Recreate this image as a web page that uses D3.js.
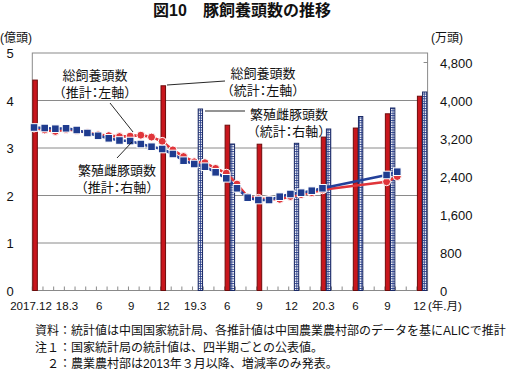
<!DOCTYPE html>
<html>
<head>
<meta charset="utf-8">
<script src="https://cdn.jsdelivr.net/npm/d3@7"></script>
<style>
  body { margin: 0; background: #fff; }
  text { font-family: "Liberation Sans", "Noto Sans CJK JP", sans-serif; fill: #111; }
  .halt { font-feature-settings: "halt"; }
</style>
</head>
<body>
<div id="chart"></div>
<script>
// months on the x axis (2017.12 - 2020.12)
const months = ["2017.12","2018.1","2018.2","2018.3","2018.4","2018.5","2018.6","2018.7","2018.8","2018.9","2018.10","2018.11","2018.12",
  "2019.1","2019.2","2019.3","2019.4","2019.5","2019.6","2019.7","2019.8","2019.9","2019.10","2019.11","2019.12",
  "2020.1","2020.2","2020.3","2020.4","2020.5","2020.6","2020.7","2020.8","2020.9","2020.10","2020.11","2020.12"];
const tickLabels = ["2017.12","18.3","6","9","12","19.3","6","9","12","20.3","6","9","12"];

// quarterly statistics (bars)
const statMonths = ["2017.12","2018.12","2019.3","2019.6","2019.9","2019.12","2020.3","2020.6","2020.9","2020.12"];
const totalStat = [4.43, 4.31, null, 3.48, 3.08, null, 3.23, 3.42, 3.72, 4.09];   // 億頭, left axis
const sowStat = [null, null, 3821, 3084, null, 3099, 3400, 3663, 3842, 4179];     // 万頭, right axis

// monthly estimates (lines)
const estMonths = months.slice(0, 28).concat(["2020.9", "2020.10"]);
const totalEst = [3.42,3.38,3.35,3.39,3.37,3.32,3.28,3.26,3.24,3.25,3.27,3.23,3.14,
  2.96,2.82,2.71,2.69,2.57,2.47,2.24,1.97,1.94,1.92,1.92,1.98,2.02,2.06,2.12, 2.29,2.40];
const sowEst = [3432,3421,3406,3415,3379,3316,3257,3204,3158,3147,3084,3027,2979,
  2874,2733,2663,2606,2488,2362,2152,1954,1905,1905,1975,2032,2059,2101,2152, 2432,2501];

const width = 508, height = 371;
const plotL = 32.3, plotR = 427.6, plotT = 53, plotB = 290.5;

const svg = d3.select("#chart").append("svg")
  .attr("width", width).attr("height", height);

const defs = svg.append("defs");
const pat = defs.append("pattern")
  .attr("id", "grid").attr("patternUnits", "userSpaceOnUse")
  .attr("width", 2.6).attr("height", 2.4);
pat.append("rect").attr("width", 2.6).attr("height", 2.4).attr("fill", "#fff");
pat.append("rect").attr("width", 2.6).attr("height", 0.9).attr("fill", "#2a3f8a");
pat.append("rect").attr("width", 0.9).attr("height", 2.4).attr("fill", "#2a3f8a");

const x = d3.scaleBand().domain(months).range([plotL, plotR]).paddingInner(0).paddingOuter(0);
const bw = x.bandwidth();
const px = m => x(m) + 1.7;

const y = d3.scaleLinear().domain([0, 5]).range([plotB, plotT]);
const yR = d3.scaleLinear().domain([0, 5000]).range([plotB, plotT]);

// title
svg.append("text")
  .attr("x", 242).attr("y", 16)
  .attr("text-anchor", "middle")
  .style("font-size", "16px").style("font-weight", "bold")
  .text("図10　豚飼養頭数の推移");

// gridlines
svg.append("g").selectAll("line")
  .data([1, 2, 3, 4])
  .join("line")
  .attr("x1", plotL).attr("x2", plotR)
  .attr("y1", d => y(d)).attr("y2", d => y(d))
  .attr("stroke", "#8a8a8a").attr("stroke-width", 1);

// plot frame
svg.append("rect")
  .attr("x", plotL).attr("y", plotT)
  .attr("width", plotR - plotL).attr("height", plotB - plotT)
  .attr("fill", "none").attr("stroke", "#8a8a8a").attr("stroke-width", 1);

// left axis
svg.append("g").selectAll("text")
  .data(y.ticks(5))
  .join("text")
  .attr("x", 10).attr("y", d => y(d) + 5)
  .attr("text-anchor", "middle")
  .style("font-size", "13px")
  .text(d => d);

svg.append("text").attr("x", 0).attr("y", 42)
  .style("font-size", "12px").text("(億頭)");

// right axis
const rTicks = [0, 800, 1600, 2400, 3200, 4000, 4800];
svg.append("g").selectAll("line")
  .data(rTicks)
  .join("line")
  .attr("x1", plotR - 4).attr("x2", plotR)
  .attr("y1", d => yR(d)).attr("y2", d => yR(d))
  .attr("stroke", "#8a8a8a");
svg.append("g").selectAll("text")
  .data(rTicks)
  .join("text")
  .attr("x", 440).attr("y", d => yR(d) + 5)
  .style("font-size", "13px")
  .text(d => d3.format(",")(d));

svg.append("text").attr("x", 431).attr("y", 42)
  .style("font-size", "12px").text("(万頭)");

// x ticks
svg.append("g").selectAll("line")
  .data(months)
  .join("line")
  .attr("x1", d => x(d)).attr("x2", d => x(d))
  .attr("y1", plotB - 4).attr("y2", plotB)
  .attr("stroke", "#8a8a8a");

const tickMonths = months.filter((d, i) => i % 3 === 0);
svg.append("g").selectAll("text")
  .data(tickMonths)
  .join("text")
  .attr("x", (d, i) => i === 0 ? px(d) - 3 : px(d) + 1)
  .attr("y", 310)
  .attr("text-anchor", "middle")
  .style("font-size", "11.5px")
  .text((d, i) => tickLabels[i]);

svg.append("text").attr("x", 428).attr("y", 310)
  .style("font-size", "11.5px").text("(年.月)");

// bars: total (statistics, left axis)
svg.append("g").selectAll("rect")
  .data(statMonths.map((m, i) => [m, totalStat[i]]).filter(d => d[1] != null))
  .join("rect")
  .attr("x", d => x(d[0]) + 0.5)
  .attr("y", d => y(d[1]))
  .attr("width", bw / 2 - 0.8)
  .attr("height", d => plotB - y(d[1]))
  .attr("fill", "#c8161d")
  .attr("stroke", "#6e0b0b").attr("stroke-width", 1);

// bars: sows (statistics, right axis)
svg.append("g").selectAll("rect")
  .data(statMonths.map((m, i) => [m, sowStat[i]]).filter(d => d[1] != null))
  .join("rect")
  .attr("x", d => x(d[0]) + bw / 2 + 0.3)
  .attr("y", d => yR(d[1]))
  .attr("width", bw / 2 - 1)
  .attr("height", d => plotB - yR(d[1]))
  .attr("fill", "url(#grid)")
  .attr("stroke", "#1b2a66").attr("stroke-width", 1);

// line: total (estimate, left axis)
const totalData = estMonths.map((m, i) => [m, totalEst[i]]);
svg.append("path")
  .datum(totalData)
  .attr("d", d3.line().x(d => px(d[0])).y(d => y(d[1])))
  .attr("fill", "none").attr("stroke", "#e0353a").attr("stroke-width", 2.6);
svg.append("g").selectAll("circle")
  .data(totalData)
  .join("circle")
  .attr("cx", d => px(d[0])).attr("cy", d => y(d[1]))
  .attr("r", 4)
  .attr("fill", "#e0353a").attr("stroke", "#fff").attr("stroke-width", 1);

// line: sows (estimate, right axis)
const sowData = estMonths.map((m, i) => [m, sowEst[i]]);
svg.append("path")
  .datum(sowData)
  .attr("d", d3.line().x(d => px(d[0])).y(d => yR(d[1])))
  .attr("fill", "none").attr("stroke", "#23409a").attr("stroke-width", 2.6);
svg.append("g").selectAll("rect")
  .data(sowData)
  .join("rect")
  .attr("x", d => px(d[0]) - 3.8).attr("y", d => yR(d[1]) - 3.8)
  .attr("width", 7.6).attr("height", 7.6)
  .attr("fill", "#1f3c8f").attr("stroke", "#fff").attr("stroke-width", 1);

// annotations
const notes = [
  { t1: "総飼養頭数", t2: "（推計：左軸）", x: 95, y: 80, line: [110, 103, 133, 132] },
  { t1: "繁殖雌豚頭数", t2: "（推計：右軸）", x: 117, y: 175, line: [117, 158, 132, 142] },
  { t1: "総飼養頭数", t2: "（統計：左軸）", x: 263, y: 78, line: [167, 85, 225, 81] },
  { t1: "繁殖雌豚頭数", t2: "（統計：右軸）", x: 289, y: 119, line: [205, 111, 245, 111] }
];
const ann = svg.append("g");
notes.forEach(n => {
  ann.append("line")
    .attr("x1", n.line[0]).attr("y1", n.line[1])
    .attr("x2", n.line[2]).attr("y2", n.line[3])
    .attr("stroke", "#111").attr("stroke-width", 0.9);
  ann.append("text")
    .attr("x", n.x).attr("y", n.y)
    .attr("text-anchor", "middle")
    .style("font-size", "13px")
    .text(n.t1);
  ann.append("text").attr("class", "halt")
    .attr("x", n.x).attr("y", n.y + 17)
    .attr("text-anchor", "middle")
    .style("font-size", "13px")
    .text(n.t2);
});

// source and notes
const foot = ["資料：統計値は中国国家統計局、各推計値は中国農業農村部のデータを基にALICで推計",
  "注１：国家統計局の統計値は、四半期ごとの公表値。",
  "　２：農業農村部は2013年３月以降、増減率のみ発表。"];
svg.append("g").selectAll("text")
  .data(foot)
  .join("text")
  .attr("x", 35).attr("y", (d, i) => 335 + i * 16.5)
  .style("font-size", "12px")
  .text(d => d);
</script>
</body>
</html>
